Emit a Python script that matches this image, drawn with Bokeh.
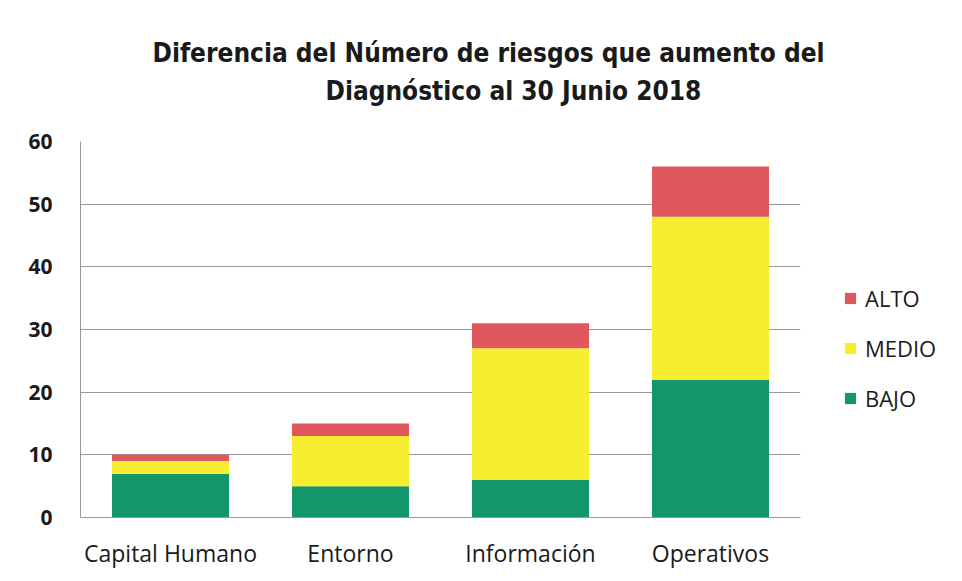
from bokeh.plotting import figure
from bokeh.models import Legend, LegendItem, Title, ColumnDataSource
from bokeh.embed import file_html
from bokeh.resources import INLINE

categories = ["Capital Humano", "Entorno", "Información", "Operativos"]
bajo = [7, 5, 6, 22]
medio = [2, 8, 21, 26]
alto = [1, 2, 4, 8]
series = ["BAJO", "MEDIO", "ALTO"]
colors = ["#14966b", "#f7ee2f", "#e0585e"]
y_ticks = [0, 10, 20, 30, 40, 50, 60]
title_lines = ["Diferencia del Número de  riesgos que  aumento del",
               "Diagnóstico al 30 Junio 2018"]

source = ColumnDataSource(dict(cat=categories, BAJO=bajo, MEDIO=medio, ALTO=alto))

p = figure(x_range=categories, y_range=(0, 60), frame_width=720, frame_height=376,
           output_backend="svg", toolbar_location=None,
           min_border_left=80, min_border_right=0, min_border_top=141, min_border_bottom=48)

renderers = p.vbar_stack(series, x="cat", width=0.65, source=source,
                         color=colors, line_color=None)

tfont = "Liberation Sans Narrow, DejaVu Sans Condensed, Roboto"
spacer = Title(text=" ", text_font_size="1px", standoff=33)
t2 = Title(text=title_lines[1], align="left", text_font=tfont, text_font_style="bold",
           text_font_size="26px", text_color="#1a1a1a", standoff=0, offset=245)
t1 = Title(text=title_lines[0], align="left", text_font=tfont, text_font_style="bold",
           text_font_size="26px", text_color="#1a1a1a", standoff=12, offset=72)
p.add_layout(spacer, "above")
p.add_layout(t2, "above")
p.add_layout(t1, "above")

legend = Legend(items=[LegendItem(label="ALTO", renderers=[renderers[2]]),
                       LegendItem(label="MEDIO", renderers=[renderers[1]]),
                       LegendItem(label="BAJO", renderers=[renderers[0]])],
                location=(43, 104), orientation="vertical",
                label_text_font="Open Sans", label_text_font_size="22px", label_text_color="#1a1a1a",
                glyph_width=14, glyph_height=14, spacing=20, padding=0, margin=0,
                label_standoff=8,
                border_line_color=None, background_fill_alpha=0)
p.add_layout(legend, "right")

p.yaxis.ticker = y_ticks
p.yaxis.major_label_text_font = "Open Sans"
p.yaxis.major_label_text_font_size = "21px"
p.yaxis.major_label_text_font_style = "bold"
p.yaxis.major_label_text_color = "#1a1a1a"
p.yaxis.major_tick_line_color = None
p.yaxis.minor_tick_line_color = None
p.yaxis.axis_line_color = "#999999"
p.yaxis.major_label_standoff = 22

p.xaxis.major_label_text_font = "Open Sans"
p.xaxis.major_label_text_font_size = "23px"
p.xaxis.major_label_text_color = "#1a1a1a"
p.xaxis.major_tick_line_color = None
p.xaxis.axis_line_color = "#999999"
p.xaxis.major_label_standoff = 13

p.xgrid.grid_line_color = None
p.ygrid.grid_line_color = "#999999"
p.ygrid.grid_line_width = 1.2
p.outline_line_color = None

p.x_range.range_padding = 0
p.border_fill_color = "white"

open("out.html", "w").write(file_html(p, INLINE))
